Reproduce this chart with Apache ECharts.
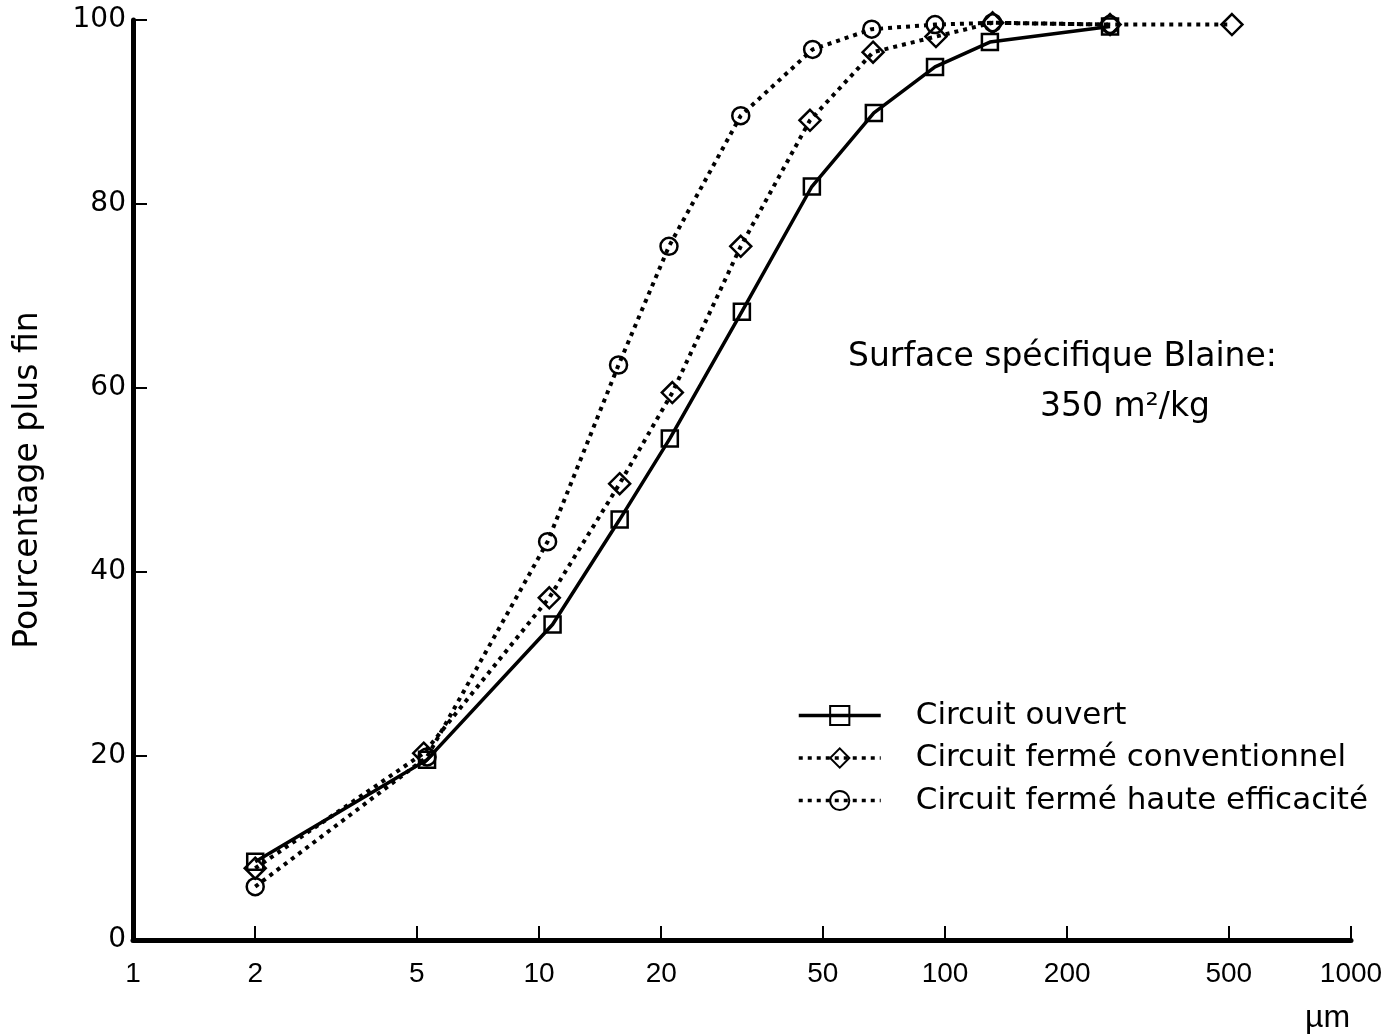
<!DOCTYPE html>
<html>
<head>
<meta charset="utf-8">
<title>Granulométrie</title>
<script src="https://cdn.jsdelivr.net/npm/echarts@6/dist/echarts.min.js"></script>
<style>
  html, body { margin: 0; padding: 0; background: #fff; }
  #chart { width: 1392px; height: 1035px; }
</style>
</head>
<body>
<div id="chart"></div>
<script>
// tailles (µm) et pourcentages
var sizesOuvert = [2.0, 5.3, 10.8, 15.8, 21.0, 31.6, 47.0, 66.8, 94.5, 129, 255]
var pctOuvert = [8.5, 19.6, 34.3, 45.7, 54.5, 68.3, 81.9, 89.9, 94.9, 97.6, 99.3]

var sizesConv = [2.0, 5.2, 10.6, 15.8, 21.3, 31.4, 46.5, 66.5, 95, 131, 255, 509]
var pctConv = [7.8, 20.3, 37.2, 49.6, 59.5, 75.4, 89.1, 96.5, 98.2, 99.7, 99.5, 99.5]

var sizesHE = [2.0, 5.3, 10.5, 15.7, 20.9, 31.4, 47.2, 66, 94.5, 131, 255]
var pctHE = [5.8, 19.9, 43.3, 62.5, 75.4, 89.6, 96.8, 99.0, 99.5, 99.7, 99.5]

var xTicks = [1, 2, 5, 10, 20, 50, 100, 200, 500, 1000]

var seriesNames = ['Circuit ouvert', 'Circuit fermé conventionnel', 'Circuit fermé haute efficacité']

function pairs (xs, ys) {
  return xs.map(function (x, i) { return [x, ys[i]] })
}

var wide = '"DejaVu Sans", sans-serif'
var arial = '"Liberation Sans", Arial, sans-serif'

var myChart = echarts.init(document.getElementById('chart'))

var option = {
  animation: false,
  backgroundColor: '#fff',
  grid: { left: 133, right: 41, top: 20, bottom: 95, containLabel: false, outerBoundsMode: 'none' },
  xAxis: {
    type: 'log',
    logBase: 10,
    min: 1,
    max: 1000,
    axisLine: { lineStyle: { color: '#000', width: 5 } },
    axisTick: { inside: true, length: 14, lineStyle: { color: '#000', width: 2 }, customValues: xTicks },
    axisLabel: {
      customValues: xTicks,
      color: '#000',
      fontFamily: arial,
      fontSize: 28,
      margin: 20,
      formatter: function (v) { return String(Math.round(v)) }
    },
    splitLine: { show: false },
    minorTick: { show: false }
  },
  yAxis: {
    type: 'value',
    min: 0,
    max: 100,
    interval: 20,
    name: 'Pourcentage plus fin',
    nameLocation: 'middle',
    nameRotate: 90,
    nameGap: 88,
    nameTextStyle: { fontFamily: wide, fontSize: 33, color: '#000' },
    axisLine: { show: true, lineStyle: { color: '#000', width: 5 } },
    axisTick: { show: true, inside: true, length: 14, lineStyle: { color: '#000', width: 2 } },
    axisLabel: { color: '#000', fontFamily: wide, fontSize: 28, margin: 7 },
    splitLine: { show: false }
  },
  legend: {
    orient: 'vertical',
    left: 797,
    top: 699,
    padding: 0,
    itemWidth: 82,
    itemHeight: 24,
    itemGap: 9.5,
    data: seriesNames,
    lineStyle: { width: 3.5 },
    textStyle: { fontFamily: wide, fontSize: 31, lineHeight: 33, color: '#000', padding: [0, 0, 0, 30] }
  },
  graphic: [
    {
      type: 'text',
      x: 848,
      y: 357,
      style: { text: 'Surface spécifique Blaine:', font: '33px ' + wide, fill: '#000', align: 'left', verticalAlign: 'middle' }
    },
    {
      type: 'text',
      x: 1040,
      y: 407,
      style: { text: '350 m²/kg', font: '33px ' + wide, fill: '#000', align: 'left', verticalAlign: 'middle' }
    },
    {
      type: 'text',
      x: 1305,
      y: 1018,
      style: { text: 'µm', font: '32px ' + arial, fill: '#000', align: 'left', verticalAlign: 'middle' }
    }
  ],
  series: [
    {
      name: seriesNames[0],
      type: 'line',
      data: pairs(sizesOuvert, pctOuvert),
      symbol: 'rect',
      symbolSize: 16,
      showAllSymbol: true,
      lineStyle: { color: '#000', width: 3.5, type: 'solid' },
      itemStyle: { color: 'rgba(0,0,0,0)', borderColor: '#000', borderWidth: 2.5 },
      z: 3
    },
    {
      name: seriesNames[1],
      type: 'line',
      data: pairs(sizesConv, pctConv),
      symbol: 'diamond',
      symbolSize: 21,
      showAllSymbol: true,
      lineStyle: { color: '#000', width: 4, type: [4, 5], cap: 'butt' },
      itemStyle: { color: 'rgba(0,0,0,0)', borderColor: '#000', borderWidth: 2.5 },
      z: 2
    },
    {
      name: seriesNames[2],
      type: 'line',
      data: pairs(sizesHE, pctHE),
      symbol: 'circle',
      symbolSize: 17,
      showAllSymbol: true,
      lineStyle: { color: '#000', width: 4, type: [4, 5], cap: 'butt' },
      itemStyle: { color: 'rgba(0,0,0,0)', borderColor: '#000', borderWidth: 2.5 },
      z: 2
    }
  ]
}

myChart.setOption(option)
</script>
</body>
</html>
